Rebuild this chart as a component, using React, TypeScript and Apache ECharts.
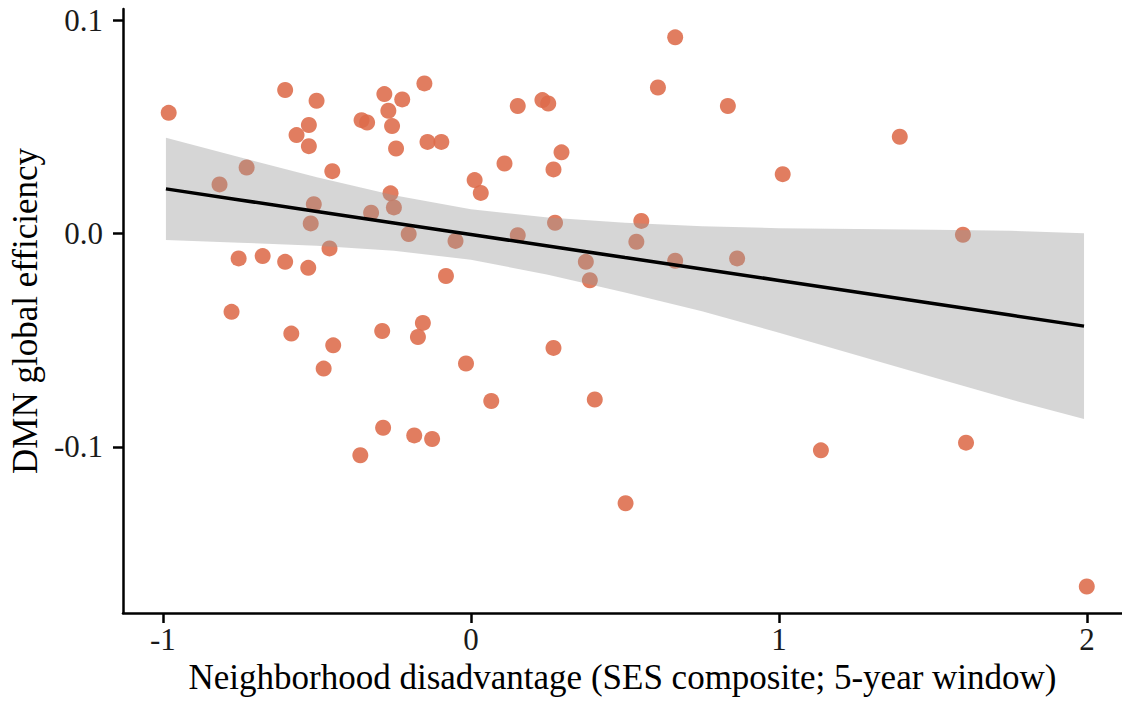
import React, { useEffect, useRef } from "react";
import * as echarts from "echarts";

// Scatter data: neighborhood disadvantage (x) vs DMN global efficiency (y)
const pointX = [
  -0.981, -0.603, -0.501, -0.526, -0.566, -0.526, -0.728, -0.816, -0.45, -0.51,
  -0.52, -0.459, -0.754, -0.676, -0.603, -0.528, -0.777, -0.583, -0.447, -0.478,
  -0.288, -0.156, -0.172, -0.016, 0.066, 0.268, 0.402, -0.285, -0.184, -0.126,
  -0.359, -0.151, -0.281, -0.223, -0.268, -0.355, -0.337, -0.256, -0.243, -0.141,
  -0.096, 0.152, 0.109, 0.012, 0.032, -0.261, -0.25, -0.324, -0.202, -0.05,
  0.152, -0.081, 0.607, 0.232, 0.251, 0.294, 0.268, 0.273, 0.553, 0.537,
  0.373, 0.663, 0.386, 0.663, 0.834, 1.012, 0.864, 1.392, 1.597, 1.136,
  1.607, 1.999, 0.502,
];
const pointY = [
  0.0565, 0.0672, 0.0622, 0.0508, 0.0461, 0.0409, 0.0309, 0.023, 0.0292, 0.0137,
  0.0047, -0.007, -0.0117, -0.0106, -0.0133, -0.0161, -0.0367, -0.0469, -0.0524, -0.0633,
  -0.0457, -0.0419, -0.0485, -0.0609, -0.0785, -0.0536, -0.0778, -0.091, -0.0946, -0.0963,
  -0.1039, 0.0703, 0.0653, 0.0628, 0.0575, 0.0531, 0.052, 0.0503, 0.0398, 0.0429,
  0.0429, 0.0597, 0.0328, 0.025, 0.019, 0.0188, 0.0122, 0.0097, -0.0003, -0.0035,
  -0.0008, -0.0199, 0.0684, 0.0625, 0.0609, 0.038, 0.03, 0.005, 0.0059, -0.0039,
  -0.0133, -0.0128, -0.0219, 0.0919, 0.0597, 0.0278, -0.0117, 0.0453, -0.0006, -0.1016,
  -0.098, -0.1654, -0.1264,
];

// Fitted line and confidence band
const fitX = [-0.99, -0.75, -0.5, -0.25, 0, 0.25, 0.5, 0.75, 1, 1.25, 1.5, 1.75, 1.99];
const fitY = [0.0209, 0.0157, 0.0103, 0.0049, -0.0005, -0.0059, -0.0113, -0.0166, -0.022, -0.0274, -0.0328, -0.0382, -0.0434];
const bandUpper = [0.0449, 0.0357, 0.0263, 0.0179, 0.0113, 0.0075, 0.005, 0.0034, 0.0025, 0.0021, 0.0017, 0.0013, 0.0001];
const bandLower = [-0.0031, -0.0043, -0.0057, -0.0081, -0.0123, -0.0193, -0.0276, -0.0364, -0.0465, -0.0569, -0.0673, -0.0777, -0.0869];

const xTicks = [-1, 0, 1, 2];
const yTicks = [-0.1, 0, 0.1];

const FONT = "'Liberation Serif', 'Times New Roman', serif";

export default function App() {
  const ref = useRef<HTMLDivElement>(null);

  useEffect(() => {
    if (!ref.current) return;
    const chart = echarts.init(ref.current, null, { renderer: "svg" });

    const scatterData = pointX.map((x, i) => [x, pointY[i]]);
    const lineData = fitX.map((x, i) => [x, fitY[i]]);
    const bandData = fitX.map((x, i) => [x, bandUpper[i], bandLower[i]]);

    const axisLine = { show: true, onZero: false, lineStyle: { color: "#000", width: 2.5 } };
    const tickStyle = { show: true, length: 10, lineStyle: { color: "#000", width: 2.5 } };

    chart.setOption({
      animation: false,
      backgroundColor: "#fff",
      grid: { left: 120, right: 0, top: 9, bottom: 88, containLabel: false },
      xAxis: {
        type: "value",
        min: -1.1294,
        max: 2.1133,
        axisLine,
        splitLine: { show: false },
        axisTick: { ...tickStyle, customValues: xTicks },
        axisLabel: {
          customValues: xTicks,
          formatter: (v: number) => String(v),
          color: "#1a1a1a",
          fontFamily: FONT,
          fontSize: 31,
          margin: 11,
        },
        name: "Neighborhood disadvantage (SES composite; 5-year window)",
        nameLocation: "middle",
        nameGap: 47,
        nameTextStyle: { color: "#000", fontFamily: FONT, fontSize: 35 },
      },
      yAxis: {
        type: "value",
        min: -0.1778,
        max: 0.10516,
        axisLine,
        splitLine: { show: false },
        axisTick: { ...tickStyle, customValues: yTicks },
        axisLabel: {
          customValues: yTicks,
          formatter: (v: number) => v.toFixed(1),
          color: "#1a1a1a",
          fontFamily: FONT,
          fontSize: 31,
          margin: 20,
        },
        name: "DMN global efficiency",
        nameLocation: "middle",
        nameGap: 76,
        nameTextStyle: { color: "#000", fontFamily: FONT, fontSize: 35 },
      },
      series: [
        {
          type: "scatter",
          data: scatterData,
          symbol: "circle",
          symbolSize: 16,
          itemStyle: { color: "#DD6B4A", opacity: 0.88 },
          z: 2,
        },
        {
          type: "custom",
          data: bandData,
          encode: { x: 0, y: [1, 2] },
          renderItem: (params: any, api: any) => {
            if (params.dataIndex !== 0) return null;
            const pts: number[][] = [];
            for (let i = 0; i < fitX.length; i++) pts.push(api.coord([fitX[i], bandUpper[i]]));
            for (let i = fitX.length - 1; i >= 0; i--) pts.push(api.coord([fitX[i], bandLower[i]]));
            return {
              type: "polygon",
              shape: { points: pts },
              style: { fill: "rgba(153,153,153,0.4)", stroke: "none" },
            };
          },
          z: 3,
          silent: true,
        },
        {
          type: "line",
          data: lineData,
          showSymbol: false,
          symbol: "none",
          lineStyle: { color: "#000", width: 3.5 },
          z: 4,
          silent: true,
        },
      ],
    });

    return () => chart.dispose();
  }, []);

  return (
    <div
      ref={ref}
      style={{ position: "absolute", left: 0, top: 0, width: 1122, height: 701, background: "#fff" }}
    />
  );
}
